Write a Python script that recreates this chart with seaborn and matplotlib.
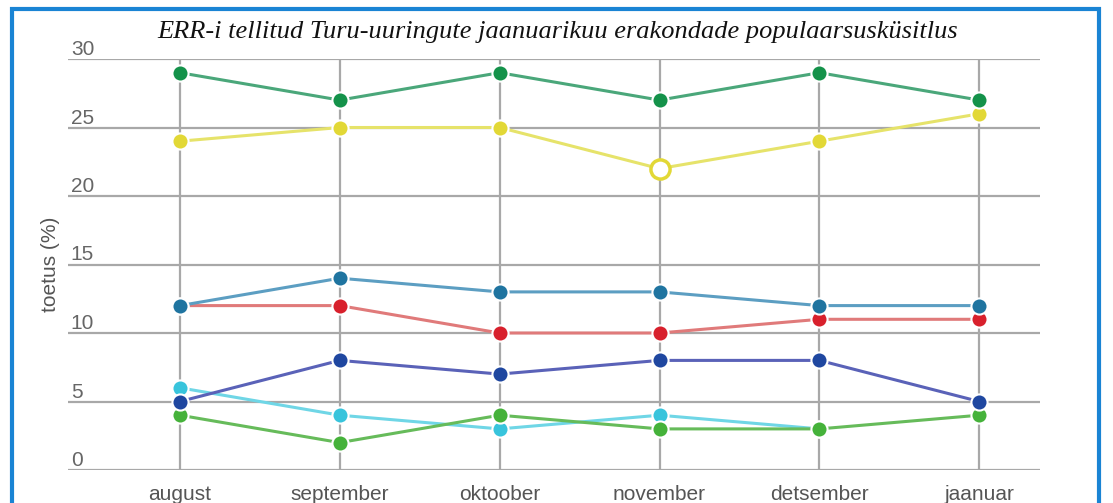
import numpy as np
import pandas as pd
import seaborn as sns
import matplotlib.pyplot as plt
from matplotlib.patches import Rectangle
from matplotlib.transforms import ScaledTranslation

months = ["august", "september", "oktoober", "november", "detsember", "jaanuar"]
series_names = ["s1", "s2", "s3", "s4", "s5", "s6", "s7"]
s1 = [29, 27, 29, 27, 29, 27]
s2 = [24, 25, 25, 22, 24, 26]
s3 = [12, 14, 13, 13, 12, 12]
s4 = [12, 12, 10, 10, 11, 11]
s5 = [5, 8, 7, 8, 8, 5]
s6 = [6, 4, 3, 4, 3, np.nan]
s7 = [4, 2, 4, 3, 3, 4]
line_colors = ["#4aa77a", "#e6e36a", "#5c9ec2", "#e07a7a", "#5a62b8", "#6fd6e6", "#66bb5a"]
marker_colors = ["#14924a", "#e2d836", "#1f74a0", "#d8202c", "#1f47a0", "#38c4dc", "#45b23a"]
open_series = "s2"
open_month = "november"
yticks = [0, 5, 10, 15, 20, 25, 30]
title = "ERR-i tellitud Turu-uuringute jaanuarikuu erakondade populaarsusküsitlus"
ylabel = "toetus (%)"

values = [s1, s2, s3, s4, s5, s6, s7]
rows = []
for name, vals in zip(series_names, values):
    for i, (m, v) in enumerate(zip(months, vals)):
        rows.append({"series": name, "idx": i, "month": m, "value": v})
df = pd.DataFrame(rows)

sns.set_theme(style="white")
plt.rcParams['font.family'] = ['Liberation Sans', 'DejaVu Sans']

fig = plt.figure(figsize=(11.13, 5.03), dpi=100)
ax = fig.add_axes([68 / 1113, 33 / 503, 972 / 1113, 411 / 503])

# grid
for y in yticks:
    ax.axhline(y, color="#a8a8a8", lw=1.6, zorder=0)
for i in range(len(months)):
    ax.axvline(i, color="#a8a8a8", lw=1.6, zorder=0)

draw_order = [5, 6, 4, 3, 2, 1, 0]
for rank, k in enumerate(draw_order):
    name, lc, mc = series_names[k], line_colors[k], marker_colors[k]
    z = 2 + rank * 0.1
    sub = df[df["series"] == name].dropna()
    sns.lineplot(data=sub, x="idx", y="value", ax=ax, color=lc, lw=2.2,
                 zorder=z, legend=False, estimator=None)
    is_open = (sub["series"] == open_series) & (sub["month"] == open_month)
    normal = sub[~is_open]
    sns.scatterplot(data=normal, x="idx", y="value", ax=ax, color=mc, s=135,
                    edgecolor="white", linewidth=1.5, zorder=z + 0.05, legend=False)
    hollow = sub[is_open]
    if len(hollow):
        sns.scatterplot(data=hollow, x="idx", y="value", ax=ax, color="white",
                        s=190, edgecolor=mc, linewidth=2.5, zorder=z + 0.06, legend=False)

ax.set_xlim(-0.70, 5.38)
ax.set_ylim(0, 30)
ax.set_xticks(range(len(months)))
ax.set_xticklabels(months, fontsize=15, color="#555555")
ax.set_yticks(yticks)
ax.set_yticklabels([str(v) for v in yticks], fontsize=15, color="#666666")
ax.tick_params(axis="y", length=0, pad=-2)
ax.tick_params(axis="x", length=0, pad=11)
for lab in ax.get_yticklabels():
    lab.set_horizontalalignment("left")
    lab.set_transform(lab.get_transform() + ScaledTranslation(0 / 72, 11.5 / 100, fig.dpi_scale_trans))
ax.set_xlabel("")
ax.set_ylabel(ylabel, fontsize=15, color="#555555")
ax.yaxis.set_label_coords(-0.008, 0.5)
for sp in ax.spines.values():
    sp.set_visible(False)
ax.patch.set_alpha(0)

fig.text(558 / 1113, 1 - 32 / 503, title, ha="center", va="center",
         fontsize=19, style="italic", family=["Liberation Serif", "DejaVu Serif"], color="#111111")

fig.patches.append(Rectangle((12 / 1113, -0.1), (1099 - 12) / 1113, 1.1 - 9 / 503,
                             transform=fig.transFigure, fill=False, edgecolor="#1a84d4",
                             lw=3, zorder=10))

fig.savefig("out.png", dpi=100, facecolor="white")
